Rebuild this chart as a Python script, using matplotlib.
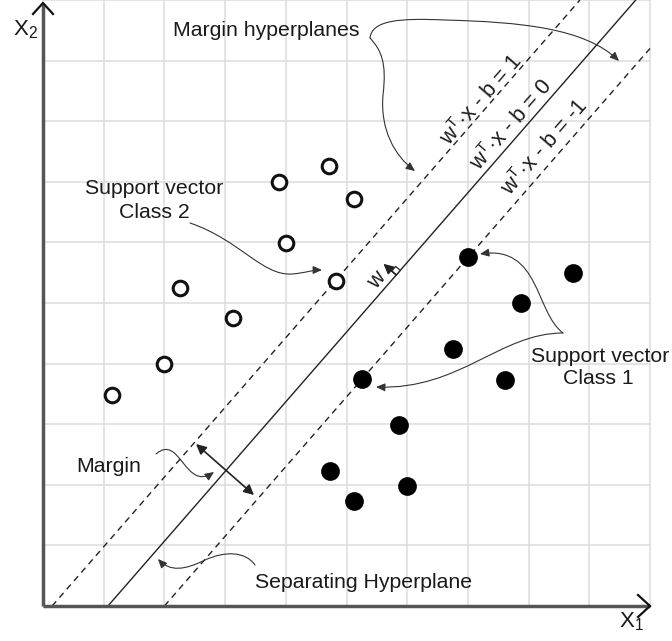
import numpy as np
import matplotlib
matplotlib.use("Agg")
import matplotlib.pyplot as plt
from matplotlib.patches import FancyArrowPatch, Polygon
from matplotlib.path import Path

plt.rcParams['font.family'] = ['Liberation Sans', 'DejaVu Sans']
plt.rcParams['mathtext.fontset'] = 'custom'
plt.rcParams['mathtext.rm'] = 'Liberation Sans'
plt.rcParams['mathtext.it'] = 'Liberation Sans:italic'

# ---------------- data ----------------
class2_x = [4.71, 3.89, 5.12, 4.00, 2.26, 4.83, 3.13, 1.99, 1.14]
class2_y = [7.26, 7.00, 6.72, 5.99, 5.25, 5.36, 4.75, 3.99, 3.48]
class1_x = [7.00, 8.73, 7.87, 6.75, 5.26, 7.61, 5.86, 4.73, 6.00, 5.12]
class1_y = [5.76, 5.50, 5.00, 4.24, 3.75, 3.73, 2.99, 2.23, 1.98, 1.73]
slope = 1.15
hyper_x0 = [0.15, 1.07, 2.00]          # x where each hyperplane meets X2 = 0
hyper_styles = ['--', '-', '--']
eq_labels = ['w$^{\\mathrm{T}}$·x - b = 1', 'w$^{\\mathrm{T}}$·x - b = 0',
             'w$^{\\mathrm{T}}$·x - b = -1']
grid_ticks = list(range(1, 11))

# ---------------- figure ----------------
W, H = 672, 641
fig = plt.figure(figsize=(W / 100, H / 100), dpi=100)
ax = fig.add_axes([0, 0, 1, 1])
X0PX, Y0PX, UX, UY = 43, 606, 60.7, 60.6
ax.set_xlim(-X0PX / UX, (W - X0PX) / UX)
ax.set_ylim((Y0PX - H) / UY, Y0PX / UY)
ax.axis('off')


def P(px, py):
    return ((px - X0PX) / UX, (Y0PX - py) / UY)


TXT = '#1a1a1a'
GRID = '#dcdcdc'

# grid
for g in grid_ticks:
    ax.plot([g, g], [0, 10], color=GRID, lw=1.1, zorder=0)
    ax.plot([0, 10], [g, g], color=GRID, lw=1.1, zorder=0)

# axes with chevron arrows
ax.plot([0, 10], [0, 0], color='#555555', lw=2.5, zorder=3, solid_capstyle='butt')
ax.plot([0, 0], [0, P(43, 4)[1]], color='#555555', lw=2.5, zorder=3, solid_capstyle='butt')
for pts in ([P(638, 595), P(650, 606), P(638, 617)],
            [P(33, 14), P(43, 3), P(53, 14)]):
    xs, ys = zip(*pts)
    ax.plot(xs, ys, color='#111111', lw=1.6, zorder=4, solid_joinstyle='miter')

ax.text(*P(13, 35), 'X$_{\\mathrm{2}}$', fontsize=16, color=TXT, ha='left', va='baseline')
ax.text(*P(619, 627), 'X$_{\\mathrm{1}}$', fontsize=16, color=TXT, ha='left', va='baseline')

# hyperplanes
for x0, ls in zip(hyper_x0, hyper_styles):
    x1 = min(10.0, x0 + 10.0 / slope)
    xs = np.array([x0, x1])
    ax.plot(xs, slope * (xs - x0), color='#222222', lw=1.0, linestyle=ls,
            dashes=(4.5, 3.5) if ls == '--' else (None, None), zorder=2)

# points
ax.plot(class2_x, class2_y, 'o', ms=10.5, mfc='white', mec='#111111', mew=2.2, zorder=5)
ax.plot(class1_x, class1_y, 'o', ms=13.5, mfc='#000000', mec='#000000', mew=0, zorder=5)

# equation labels along the lines
ang = np.degrees(np.arctan(slope * UY / UX))
for lab, pos in zip(eq_labels, [(481, 100), (511, 125), (545, 148)]):
    ax.text(*P(*pos), lab, fontsize=15.5, color=TXT, rotation=ang,
            rotation_mode='anchor', ha='center', va='center')

# w normal vector with right-angle mark
d = np.array([1.0, slope]) / np.hypot(1.0, slope)
p = np.array([-slope, 1.0]) / np.hypot(1.0, slope)
F = np.array([5.82, slope * (5.82 - hyper_x0[1])])
s = 0.1
ax.add_patch(Polygon([F, F + s * d, F + s * d + s * p, F + s * p], closed=True,
                     facecolor='white', edgecolor='#222222', lw=0.9, zorder=3))
ax.add_patch(FancyArrowPatch(posA=tuple(F), posB=tuple(F + 0.28 * p),
                             arrowstyle='-|>,head_length=0.5,head_width=0.25',
                             mutation_scale=12, lw=1.1, color='#222222',
                             shrinkA=0, shrinkB=0, zorder=4))
ax.text(*P(377, 281), 'w', fontsize=15.5, color=TXT, rotation=ang,
        rotation_mode='anchor', ha='center', va='center')

# margin double arrow
ax.add_patch(FancyArrowPatch(posA=P(196, 444), posB=P(254, 495),
                             arrowstyle='<|-|>,head_length=0.5,head_width=0.25',
                             mutation_scale=12, lw=1.2, color='#222222',
                             shrinkA=0, shrinkB=0, zorder=4))


def curve(points_px, codes):
    verts = [P(*q) for q in points_px]
    ax.add_patch(FancyArrowPatch(path=Path(verts, codes),
                                 arrowstyle='-|>,head_length=0.45,head_width=0.2',
                                 mutation_scale=12, lw=0.8, color='#333333', zorder=4))


C4 = Path.CURVE4
MV = Path.MOVETO
# Margin hyperplanes -> two arrows
curve([(370, 38), (381, 50), (387, 62), (383, 95),
       (380, 130), (395, 156), (415, 171)], [MV, C4, C4, C4, C4, C4, C4])
curve([(370, 38), (372, 20), (400, 18), (445, 20),
       (520, 22), (585, 28), (619, 61)], [MV, C4, C4, C4, C4, C4, C4])
# Support vector class 2
curve([(190, 223), (240, 240), (262, 276), (292, 274),
       (305, 273), (312, 270), (322, 270)], [MV, C4, C4, C4, C4, C4, C4])
# Support vector class 1 (two arrows from a common tip)
curve([(563, 333), (535, 312), (540, 245), (480, 254)], [MV, C4, C4, C4])
curve([(563, 333), (500, 333), (460, 390), (376, 387)], [MV, C4, C4, C4])
# Margin
curve([(156, 454), (180, 433), (185, 492), (214, 472)], [MV, C4, C4, C4])
# Separating hyperplane
curve([(255, 565), (245, 551), (225, 551), (205, 560),
       (185, 570), (170, 572), (158, 559)], [MV, C4, C4, C4, C4, C4, C4])

# text labels
FS = 15.3
ax.text(*P(266, 30), 'Margin hyperplanes', fontsize=FS, color=TXT, ha='center', va='center')
ax.text(*P(154, 189), 'Support vector', fontsize=FS, color=TXT, ha='center', va='center')
ax.text(*P(154, 212), 'Class 2', fontsize=FS, color=TXT, ha='center', va='center')
ax.text(*P(600, 357), 'Support vector', fontsize=FS, color=TXT, ha='center', va='center')
ax.text(*P(598, 379), 'Class 1', fontsize=FS, color=TXT, ha='center', va='center')
ax.text(*P(109, 467), 'Margin', fontsize=FS, color=TXT, ha='center', va='center')
ax.text(*P(364, 583), 'Separating Hyperplane', fontsize=FS, color=TXT, ha='center', va='center')

fig.savefig('out.png', dpi=100, facecolor='white')
